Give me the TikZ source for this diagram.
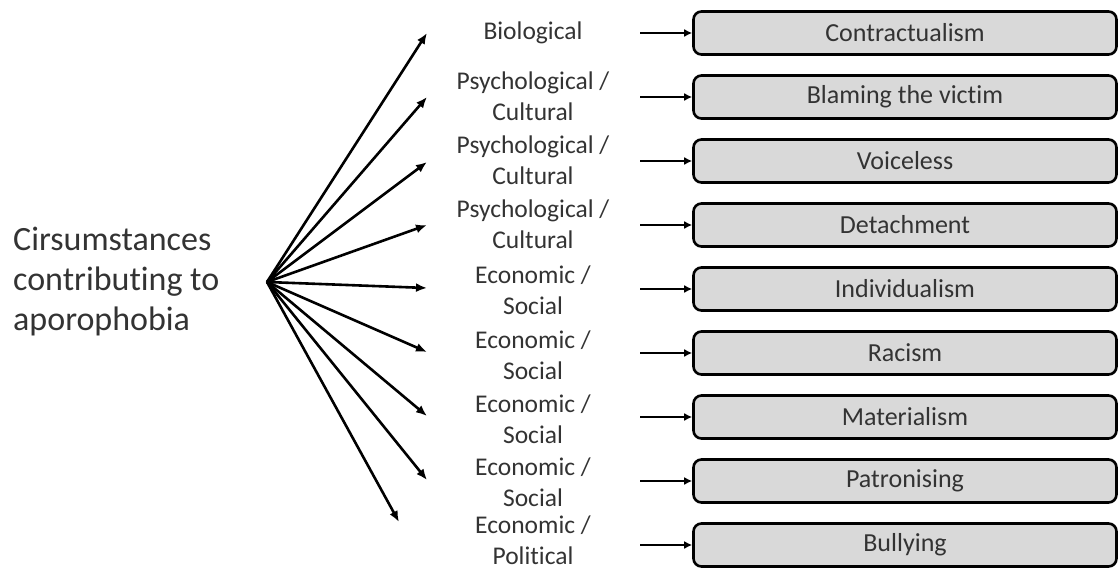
\documentclass[tikz,border=0pt]{standalone}
\usepackage{fontspec}
\setmainfont[Ligatures=CommonOff]{Carlito}
\usetikzlibrary{arrows.meta}
\definecolor{txt}{HTML}{333333}
\definecolor{boxfill}{HTML}{D9D9D9}
\begin{document}
\begin{tikzpicture}[x=1pt,y=-1pt,
  lbl/.style={text=txt,font=\fontsize{25.5}{31.5}\selectfont,align=center,inner sep=0pt},
  itembox/.style={draw=black,line width=2.6pt,fill=boxfill,rounded corners=8pt,minimum width=423pt,minimum height=43pt,text=txt,font=\fontsize{26}{30}\selectfont,inner sep=0pt},
  fan/.style={line width=2.6pt,-{Latex[length=11pt,width=9pt]}},
  feed/.style={line width=2.6pt,-{Latex[length=8pt,width=8pt]}}]
\path[use as bounding box] (0,0) rectangle (1120,570);
\node[anchor=west,text=txt,font=\fontsize{34}{40}\selectfont,align=left,inner sep=0pt] (src) at (13,282) {Cirsumstances\\contributing to\\aporophobia};
\coordinate (hub) at (267,282);
% fan tips
\coordinate (t1) at (427,33);
\coordinate (t2) at (427,97);
\coordinate (t3) at (427,162);
\coordinate (t4) at (427,225);
\coordinate (t5) at (427,288);
\coordinate (t6) at (427,352);
\coordinate (t7) at (427,416);
\coordinate (t8) at (427,480);
\coordinate (t9) at (399,522);
\foreach \i in {1,...,9} {\draw[fan] (hub) -- (t\i);}
% labels
\node[lbl] (l1) at (533,33) {Biological};
\node[lbl] (l2) at (533,96) {Psychological /\\Cultural};
\node[lbl] (l3) at (533,160) {Psychological /\\Cultural};
\node[lbl] (l4) at (533,224) {Psychological /\\Cultural};
\node[lbl] (l5) at (533,290) {Economic /\\Social};
\node[lbl] (l6) at (533,355) {Economic /\\Social};
\node[lbl] (l7) at (533,419) {Economic /\\Social};
\node[lbl] (l8) at (533,482) {Economic /\\Social};
\node[lbl] (l9) at (533,540) {Economic /\\Political};
% boxes
\node[itembox] (b1) at (905,33) {Contractualism};
\node[itembox] (b2) at (905,97) {Blaming the victim};
\node[itembox] (b3) at (905,161) {Voiceless};
\node[itembox] (b4) at (905,225) {Detachment};
\node[itembox] (b5) at (905,289) {Individualism};
\node[itembox] (b6) at (905,353) {Racism};
\node[itembox] (b7) at (905,417) {Materialism};
\node[itembox] (b8) at (905,481) {Patronising};
\node[itembox] (b9) at (905,545) {Bullying};
\foreach \i in {1,...,9} {
  \coordinate (s\i) at (640,0 |- b\i.west);
  \draw[feed] (s\i) -- (b\i.west);
}
\end{tikzpicture}
\end{document}
